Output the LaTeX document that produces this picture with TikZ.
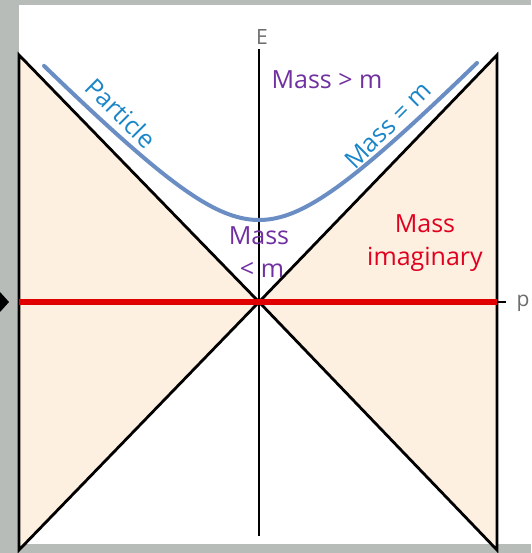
\documentclass[tikz,border=0pt]{standalone}
\usepackage{fontspec}
\setmainfont{Open Sans}
\definecolor{bggray}{RGB}{184,188,184}
\definecolor{peach}{RGB}{253,240,224}
\definecolor{curveblue}{RGB}{106,142,196}
\definecolor{txtblue}{RGB}{26,134,200}
\definecolor{txtpurple}{RGB}{112,48,160}
\definecolor{txtred}{RGB}{224,0,32}
\definecolor{axisred}{RGB}{224,0,0}
\definecolor{axgray}{RGB}{110,110,110}
\tikzset{
  cone/.style={fill=peach, draw=black, line width=2.8pt, line join=miter},
  lbl/.style={inner sep=0pt, font=\fontsize{25}{33}\selectfont, align=center},
  axlbl/.style={inner sep=0pt, text=axgray, font=\fontsize{21}{25}\selectfont},
}
\begin{document}
\begin{tikzpicture}[x=1pt,y=-1pt]
\useasboundingbox (0,0) rectangle (531,553);
\fill[bggray] (0,0) rectangle (531,553);
\fill[white] (19,5) rectangle (531,544);
% cones
\draw[cone] (19,55) -- (259,302) -- (19,550) -- cycle;
\draw[cone] (497,55) -- (259,302) -- (497,550) -- cycle;
% vertical axis
\coordinate (etop) at (259,49);
\coordinate (ebot) at (259,536);
\draw[line width=2.8pt] (etop) -- (ebot);
% hyperbola
\draw[curveblue, line width=4pt, line cap=round]
  plot[domain=-215:218, samples=120, smooth] ({259+\x}, {302-100*sqrt((1.03*\x/100)^2+0.82^2)});
% horizontal axis
\coordinate (pl) at (19,302);
\coordinate (pr) at (497,302);
\coordinate (pt) at (506,302);
\draw[line width=2pt] (pr) -- (pt);
\draw[axisred, line width=6pt] (pl) -- (pr);
% left marker
\fill[black] (0,292) -- (9,302) -- (0,312) -- cycle;
% labels
\node[axlbl] (E) at (262,37) {E};
\node[axlbl] (p) at (523,303) {p};
\node[lbl, text=txtpurple] (mg) at (327,80) {Mass > m};
\node[lbl, text=txtblue, rotate=-45] (part) at (121,113) {Particle};
\node[lbl, text=txtblue, rotate=45] (meq) at (388,125) {Mass = m};
\node[lbl, text=txtpurple] (ml) at (259,252) {Mass\\\hspace*{6pt}< m};
\node[lbl, text=txtred] (mi) at (425,243) {Mass\\imaginary};
\end{tikzpicture}
\end{document}
